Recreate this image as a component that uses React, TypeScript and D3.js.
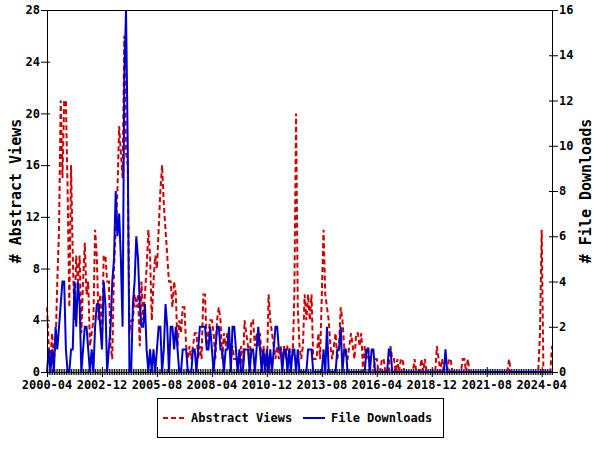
import React from "react";
import * as d3 from "d3";

// monthly values, starting 2000-04
const abstractViews: number[] = [
  5, 2, 1, 3, 1, 2, 7, 11, 21, 15, 21, 21,
  14, 5, 16, 9, 4, 9, 7, 9, 3, 7, 10, 6,
  7, 2, 3, 4, 11, 9, 4, 6, 2, 9, 9, 7,
  7, 2, 1, 8, 11, 14, 19, 17, 15, 26, 17, 16,
  3, 4, 4, 6, 5, 6, 2, 7, 4, 6, 8, 11,
  9, 4, 7, 9, 8, 11, 14, 16, 13, 11, 9, 7,
  7, 5, 7, 6, 2, 4, 3, 5, 5, 2, 1, 2,
  1, 2, 3, 3, 1, 2, 1, 6, 6, 2, 3, 4,
  4, 3, 1, 4, 5, 4, 1, 3, 2, 3, 2, 1,
  2, 1, 1, 1, 1, 2, 0, 4, 3, 2, 1, 4,
  4, 2, 3, 2, 3, 1, 2, 1, 0, 6, 4, 3,
  2, 1, 2, 1, 2, 1, 2, 1, 2, 2, 1, 1,
  6, 20, 5, 2, 1, 2, 6, 4, 6, 4, 6, 1,
  1, 1, 3, 1, 6, 11, 6, 5, 4, 2, 1, 2,
  3, 1, 2, 5, 4, 2, 1, 1, 2, 3, 2, 1,
  3, 3, 2, 3, 0, 2, 1, 2, 0, 0, 0, 1,
  1, 0, 0, 1, 1, 0, 0, 0, 2, 1, 1, 0,
  1, 0, 1, 1, 0, 0, 0, 0, 0, 0, 1, 0,
  0, 0, 1, 0, 1, 0, 0, 0, 0, 0, 0, 2,
  1, 0, 1, 0, 0, 0, 1, 1, 0, 0, 0, 0,
  0, 0, 1, 1, 0, 1, 0, 0, 0, 0, 0, 0,
  0, 0, 0, 0, 0, 0, 0, 0, 0, 0, 0, 0,
  0, 0, 0, 0, 0, 1, 0, 0, 0, 0, 0, 0,
  0, 0, 0, 0, 0, 0, 0, 0, 0, 0, 0, 3,
  11, 0, 0, 0, 0, 0, 2,
];

const fileDownloads: number[] = [
  0, 1, 0, 1, 0, 2, 1, 2, 3, 4, 4, 1,
  0, 0, 1, 1, 4, 2, 4, 3, 0, 1, 2, 2,
  1, 0, 1, 0, 2, 3, 3, 2, 1, 4, 3, 0,
  1, 2, 4, 5, 8, 6, 7, 5, 2, 13, 16, 10,
  0, 0, 3, 4, 6, 5, 3, 2, 2, 3, 1, 0,
  1, 0, 1, 0, 1, 2, 2, 0, 1, 3, 2, 0,
  2, 2, 1, 2, 1, 0, 0, 1, 1, 1, 0, 0,
  0, 1, 1, 0, 1, 2, 2, 2, 2, 1, 1, 2,
  1, 0, 1, 2, 2, 1, 1, 0, 1, 1, 2, 0,
  2, 2, 1, 0, 1, 0, 0, 1, 1, 1, 0, 1,
  1, 0, 1, 2, 1, 0, 1, 0, 1, 0, 1, 0,
  1, 2, 2, 1, 1, 0, 1, 1, 0, 1, 0, 1,
  1, 0, 1, 0, 0, 0, 0, 0, 1, 1, 1, 0,
  0, 0, 0, 0, 0, 1, 0, 2, 0, 0, 0, 0,
  0, 1, 1, 2, 0, 1, 1, 0, 0, 0, 0, 0,
  0, 0, 0, 0, 0, 0, 1, 1, 0, 1, 1, 0,
  0, 0, 0, 0, 0, 0, 0, 1, 1, 0, 0, 0,
  0, 0, 0, 0, 0, 0, 0, 0, 0, 0, 0, 0,
  0, 0, 0, 0, 0, 0, 0, 0, 0, 0, 0, 0,
  0, 0, 0, 0, 1, 0, 0, 0, 0, 0, 0, 0,
  0, 0, 0, 0, 0, 0, 0, 0, 0, 0, 0, 0,
  0, 0, 0, 0, 0, 0, 0, 0, 0, 0, 0, 0,
  0, 0, 0, 0, 0, 0, 0, 0, 0, 0, 0, 0,
  0, 0, 0, 0, 0, 0, 0, 0, 0, 0, 0, 0,
  0, 0, 0, 0, 0, 0, 0,
];

const xTickLabels = [
  "2000-04", "2002-12", "2005-08", "2008-04", "2010-12",
  "2013-08", "2016-04", "2018-12", "2021-08", "2024-04",
];
const leftTicks = [0, 4, 8, 12, 16, 20, 24, 28];
const rightTicks = [0, 2, 4, 6, 8, 10, 12, 14, 16];

const RED = "#cc0000";
const BLUE = "#0000cc";
const FONT = "'DejaVu Sans Mono', monospace";

// month offset from 2000-04
const monthIndex = (label: string) => {
  const [y, m] = label.split("-").map(Number);
  return (y - 2000) * 12 + (m - 4);
};

export default function App() {
  const width = 600;
  const height = 450;
  const margin = { top: 10, right: 48, bottom: 78, left: 47 };
  const plotRight = width - margin.right;
  const plotBottom = height - margin.bottom;

  const n = abstractViews.length;
  const x = d3.scaleLinear().domain([0, n - 1]).range([margin.left, plotRight]);
  const yL = d3.scaleLinear().domain([0, 28]).range([plotBottom, margin.top]);
  const yR = d3.scaleLinear().domain([0, 16]).range([plotBottom, margin.top]);

  const lineL = d3.line<number>().x((_, i) => x(i)).y((d) => yL(d));
  const lineR = d3.line<number>().x((_, i) => x(i)).y((d) => yR(d));

  const months = d3.range(0, n);

  return (
    <div style={{ position: "absolute", left: 0, top: 0 }}>
      <svg width={width} height={height} style={{ display: "block", background: "#fff" }}>
        <g fontFamily={FONT} fontWeight="bold" fontSize={12} fill="#000">
          {/* monthly minor ticks along the bottom */}
          {months.map((m) => (
            <line key={`mt${m}`} x1={x(m) + 0.5} x2={x(m) + 0.5} y1={plotBottom - 3} y2={plotBottom + 3} stroke="#000" strokeWidth={1} />
          ))}
          {xTickLabels.map((l) => {
            const xi = x(monthIndex(l));
            return (
              <g key={l}>
                <line x1={xi + 0.5} x2={xi + 0.5} y1={plotBottom - 5} y2={plotBottom + 5} stroke="#000" />
                <text x={xi} y={plotBottom + 17} textAnchor="middle">{l}</text>
              </g>
            );
          })}
          {leftTicks.map((t) => (
            <g key={`l${t}`}>
              <line x1={margin.left - 6} x2={margin.left + 3} y1={yL(t) + 0.5} y2={yL(t) + 0.5} stroke="#000" />
              <text x={margin.left - 7} y={yL(t)} dy="0.35em" textAnchor="end">{t}</text>
            </g>
          ))}
          {rightTicks.map((t) => (
            <g key={`r${t}`}>
              <line x1={plotRight - 3} x2={plotRight + 6} y1={yR(t) + 0.5} y2={yR(t) + 0.5} stroke="#000" />
              <text x={plotRight + 7} y={yR(t)} dy="0.35em" textAnchor="start">{t}</text>
            </g>
          ))}

          <path d={lineL(abstractViews) ?? ""} fill="none" stroke={RED} strokeWidth={2} strokeDasharray="5,3" strokeLinejoin="miter" />
          <path d={lineR(fileDownloads) ?? ""} fill="none" stroke={BLUE} strokeWidth={2} strokeLinejoin="miter" />

          <rect x={margin.left + 0.5} y={margin.top + 0.5} width={plotRight - margin.left} height={plotBottom - margin.top} fill="none" stroke="#000" strokeWidth={1} />

          <text transform={`translate(16,${(margin.top + plotBottom) / 2}) rotate(-90)`} textAnchor="middle" dy="0.35em" fontSize={15}>
            # Abstract Views
          </text>
          <text transform={`translate(586,${(margin.top + plotBottom) / 2}) rotate(-90)`} textAnchor="middle" dy="0.35em" fontSize={15}>
            # File Downloads
          </text>

          {/* legend */}
          <rect x={157.5} y={398.5} width={286} height={39} fill="none" stroke="#000" />
          <line x1={163} x2={184} y1={418} y2={418} stroke={RED} strokeWidth={2} strokeDasharray="5,3" />
          <text x={191} y={422}>Abstract Views</text>
          <line x1={303} x2={325} y1={418} y2={418} stroke={BLUE} strokeWidth={2} />
          <text x={331} y={422}>File Downloads</text>
        </g>
      </svg>
    </div>
  );
}
